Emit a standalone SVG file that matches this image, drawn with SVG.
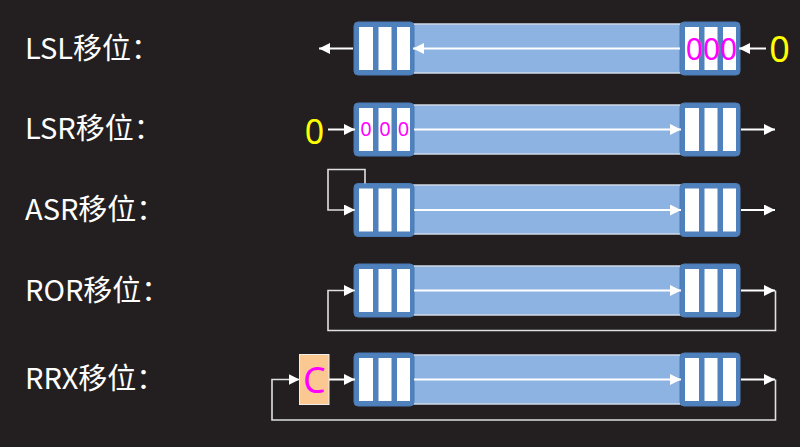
<svg xmlns="http://www.w3.org/2000/svg" width="800" height="447" viewBox="0 0 800 447">
<defs>
<style>
.lbl{font-family:"Noto Sans CJK SC","Noto Sans",sans-serif;font-size:29px;fill:#ffffff}
.band{fill:#8db3e2;stroke:#d0dae8;stroke-width:1.5}
.reg{fill:#4f81bd;stroke:#4a7ab4;stroke-width:1}
.cell{fill:#ffffff}
.ar{stroke:#ffffff;stroke-width:2;fill:none}
.fb{stroke:#e0e0e0;stroke-width:1.6;fill:none}
.mag{font-family:"Noto Sans","DejaVu Sans",sans-serif;fill:#ff00ff;text-anchor:middle}
.yel{font-family:"Noto Sans","DejaVu Sans",sans-serif;fill:#ffff00;text-anchor:middle}
</style>
<marker id="ah" viewBox="0 0 10 10" refX="10" refY="5" markerWidth="11" markerHeight="11" markerUnits="userSpaceOnUse" orient="auto">
<path d="M0,0 L10,5 L0,10 z" fill="#ffffff"/>
</marker>
<g id="regshape">
<rect class="reg" x="0" y="0" width="60" height="53" rx="4"/>
<rect class="cell" x="5" y="5" width="14" height="43"/>
<rect class="cell" x="24.5" y="5" width="13" height="43"/>
<rect class="cell" x="43" y="5" width="13" height="43"/>
</g>
</defs>
<rect width="800" height="447" fill="#231f20"/>

<g id="labels">
<text class="lbl" x="25" y="59">LSL移位：</text>
<text class="lbl" x="25" y="138.5">LSR移位：</text>
<text class="lbl" x="25" y="219.5">ASR移位：</text>
<text class="lbl" x="25" y="300.5">ROR移位：</text>
<text class="lbl" x="25" y="389">RRX移位：</text>
</g>

<g id="bands">
<rect class="band" x="360" y="24" width="376" height="49"/>
<rect class="band" x="360" y="105" width="376" height="49"/>
<rect class="band" x="360" y="185" width="376" height="49"/>
<rect class="band" x="360" y="266" width="376" height="49"/>
<rect class="band" x="360" y="355" width="376" height="49"/>
</g>

<g id="lsl-left"><use href="#regshape" x="354" y="22"/></g>
<g id="lsl-right"><use href="#regshape" x="680" y="22"/>
<text class="mag" x="711.5" y="60" font-size="30">000</text></g>
<g id="lsl-zero"><text class="yel" x="779.5" y="61.5" font-size="36">0</text></g>

<g id="lsr-left"><use href="#regshape" x="354" y="103"/>
<text class="mag" x="366" y="136" font-size="20">0</text>
<text class="mag" x="385" y="136" font-size="20">0</text>
<text class="mag" x="403.5" y="136" font-size="20">0</text></g>
<g id="lsr-right"><use href="#regshape" x="680" y="103"/></g>
<g id="lsr-zero"><text class="yel" x="314.5" y="144" font-size="34">0</text></g>

<g id="asr-left"><use href="#regshape" x="354" y="183.5"/></g>
<g id="asr-right"><use href="#regshape" x="680" y="183.5"/></g>

<g id="ror-left"><use href="#regshape" x="354" y="264"/></g>
<g id="ror-right"><use href="#regshape" x="680" y="264"/></g>

<g id="rrx-left"><use href="#regshape" x="354" y="353"/></g>
<g id="rrx-right"><use href="#regshape" x="680" y="353"/></g>
<g id="rrx-carry"><rect x="299.5" y="354.5" width="29.5" height="50" fill="#fcc891" stroke="#eeeeee" stroke-width="1"/>
<text class="mag" x="314.5" y="393" font-size="36">C</text></g>

<g id="connectors">
<!-- LSL -->
<line class="ar" x1="680" y1="48.5" x2="413" y2="48.5" marker-end="url(#ah)"/>
<line class="ar" x1="353" y1="48.5" x2="319" y2="48.5" marker-end="url(#ah)"/>
<line class="ar" x1="766" y1="48.5" x2="739" y2="48.5" marker-end="url(#ah)"/>
<!-- LSR -->
<line class="ar" x1="414" y1="129.5" x2="681" y2="129.5" marker-end="url(#ah)"/>
<line class="ar" x1="328" y1="129.5" x2="355" y2="129.5" marker-end="url(#ah)"/>
<line class="ar" x1="741" y1="129.5" x2="775" y2="129.5" marker-end="url(#ah)"/>
<!-- ASR -->
<line class="ar" x1="414" y1="210" x2="681" y2="210" marker-end="url(#ah)"/>
<polyline class="fb" points="365,183.5 365,169.5 328,169.5 328,210 355,210" marker-end="url(#ah)"/>
<line class="ar" x1="741" y1="210" x2="775" y2="210" marker-end="url(#ah)"/>
<!-- ROR -->
<line class="ar" x1="414" y1="290.5" x2="681" y2="290.5" marker-end="url(#ah)"/>
<line class="ar" x1="741" y1="290.5" x2="775" y2="290.5" marker-end="url(#ah)"/>
<polyline class="fb" points="775.5,290.5 775.5,330.5 328,330.5 328,290.5 355,290.5" marker-end="url(#ah)"/>
<!-- RRX -->
<line class="ar" x1="414" y1="379.5" x2="681" y2="379.5" marker-end="url(#ah)"/>
<line class="ar" x1="741" y1="379.5" x2="775" y2="379.5" marker-end="url(#ah)"/>
<line class="ar" x1="329" y1="379.5" x2="355" y2="379.5" marker-end="url(#ah)"/>
<polyline class="fb" points="775.5,379.5 775.5,420 272,420 272,379.5 299.5,379.5" marker-end="url(#ah)"/>
</g>
</svg>
